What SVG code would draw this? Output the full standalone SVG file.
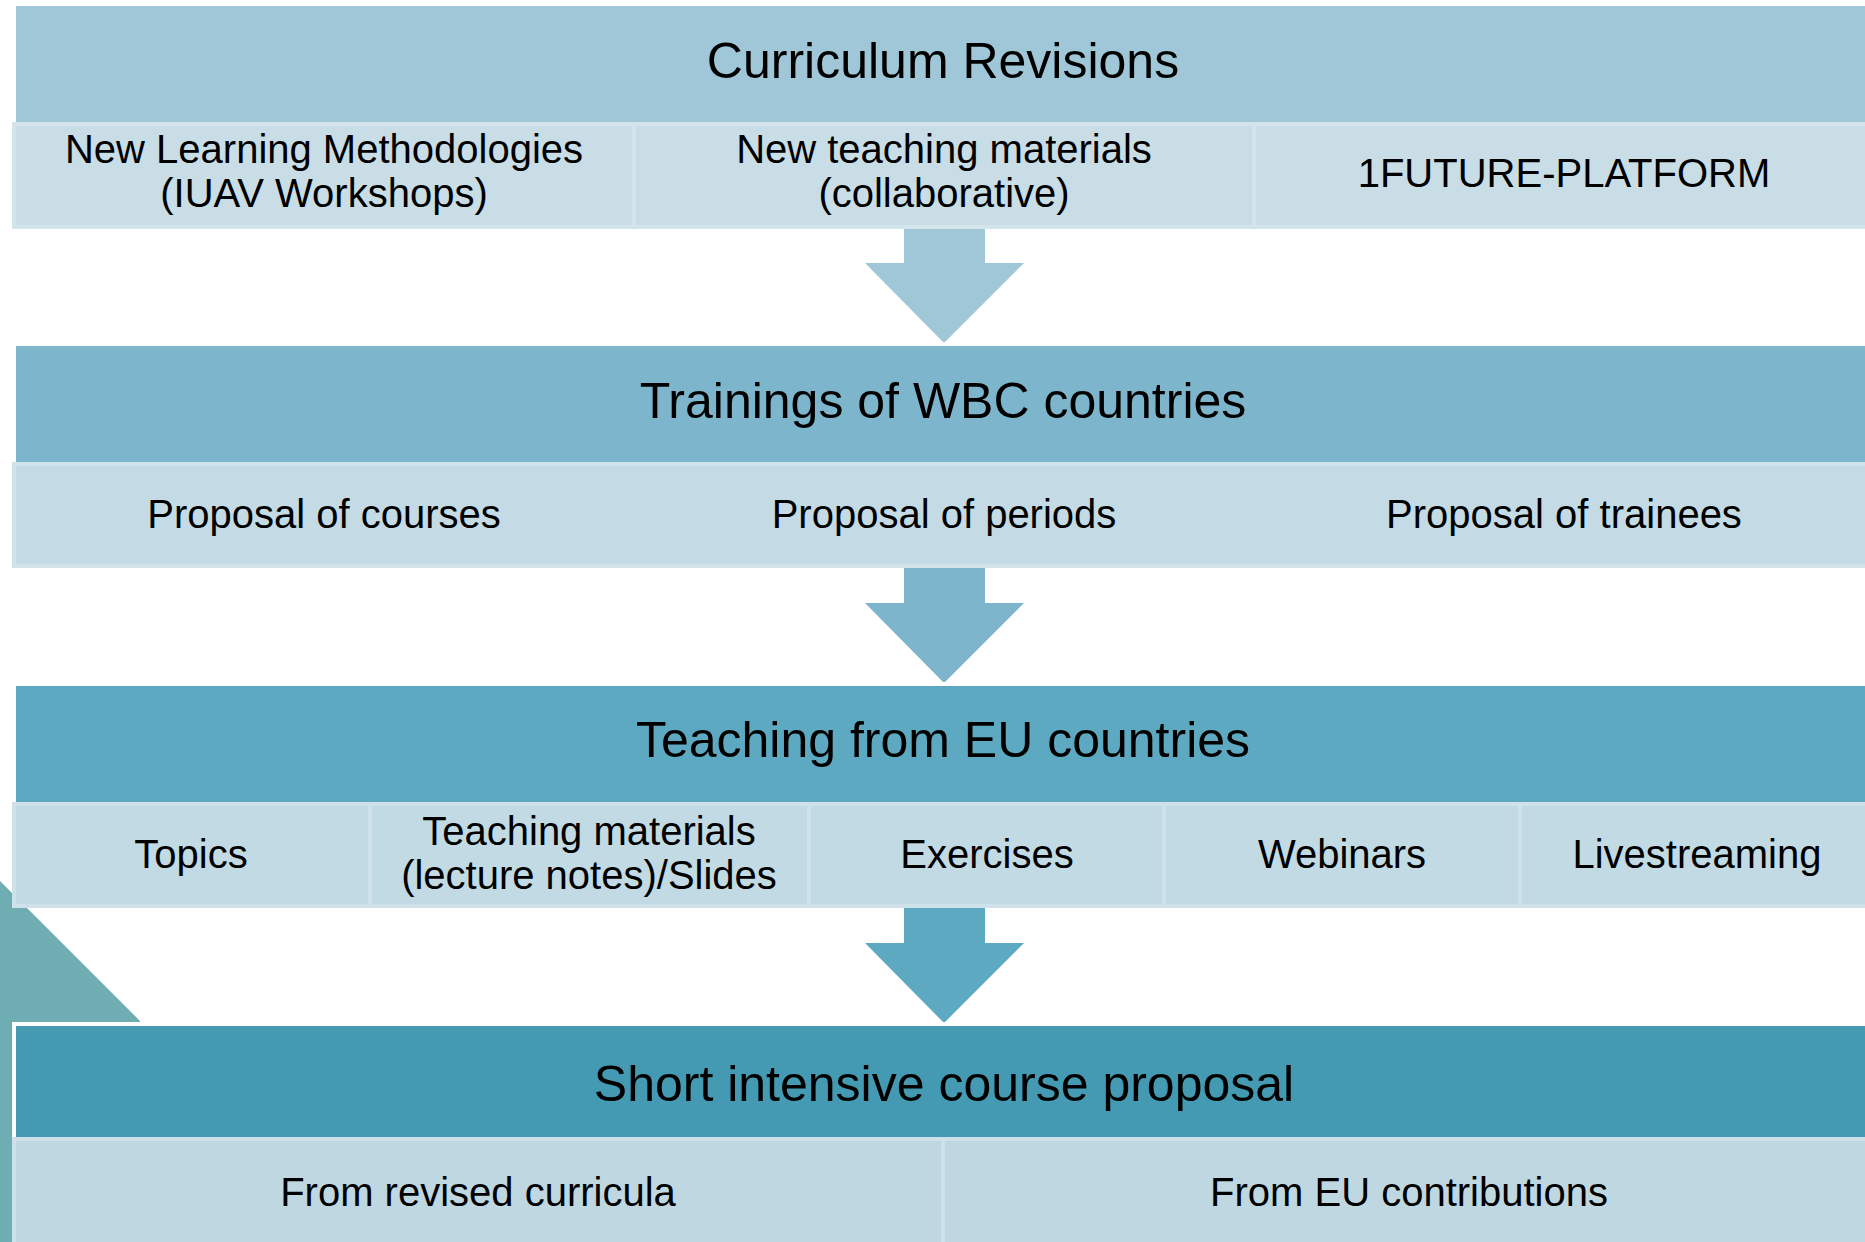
<svg xmlns="http://www.w3.org/2000/svg" width="1865" height="1242" viewBox="0 0 1865 1242">
<defs>
<style>
text{font-family:"Liberation Sans",Arial,sans-serif;fill:#000;text-anchor:middle}
.h{font-size:50px}
.s{font-size:40px}
.hd{stroke:#fff;stroke-width:4}
.c1{fill:#c9dde6;stroke:#d3e4eb;stroke-width:4}
.c2{fill:#c4dbe5;stroke:#d0e2ea;stroke-width:4}
.c3{fill:#c2dae3;stroke:#d0e2e9;stroke-width:4}
.c4{fill:#bfd7e0;stroke:#cee0e8;stroke-width:4}
</style>
</defs>
<rect width="1865" height="1242" fill="#fff"/>
<polygon id="bg-triangle" points="0,881 140,1021 140,1242 0,1242" fill="#6eaeb3"/>
<g id="connectors">
<polygon points="904,220 985,220 985,263 1024,263 944,343 865,263 904,263" fill="#9fc7d7"/>
<polygon points="904,560 985,560 985,603 1024,603 944,683 865,603 904,603" fill="#7db6cc"/>
<polygon points="904,900 985,900 985,943 1024,943 944,1023 865,943 904,943" fill="#5ea9c2"/>
</g>
<g id="curriculum-revisions">
<rect class="hd" x="14" y="4" width="1870" height="120" fill="#9fc7d7"/>
<text class="h" x="943" y="78">Curriculum Revisions</text>
<g id="new-learning-methodologies"><rect class="c1" x="14" y="124" width="620" height="103"/><text class="s" x="324" y="163">New Learning Methodologies</text><text class="s" x="324" y="207">(IUAV Workshops)</text></g>
<g id="new-teaching-materials"><rect class="c1" x="634" y="124" width="620" height="103"/><text class="s" x="944" y="163">New teaching materials</text><text class="s" x="944" y="207">(collaborative)</text></g>
<g id="future-platform"><rect class="c1" x="1254" y="124" width="630" height="103"/><text class="s" x="1564" y="187">1FUTURE-PLATFORM</text></g>
</g>
<g id="trainings-wbc">
<rect class="hd" x="14" y="344" width="1870" height="120" fill="#7db6cc"/>
<text class="h" x="943" y="418">Trainings of WBC countries</text>
<rect class="c2" x="14" y="464" width="1870" height="102"/>
<g id="proposal-courses"><text class="s" x="324" y="528">Proposal of courses</text></g>
<g id="proposal-periods"><text class="s" x="944" y="528">Proposal of periods</text></g>
<g id="proposal-trainees"><text class="s" x="1564" y="528">Proposal of trainees</text></g>
</g>
<g id="teaching-eu">
<rect class="hd" x="14" y="684" width="1870" height="120" fill="#5ea9c2"/>
<text class="h" x="943" y="757">Teaching from EU countries</text>
<g id="topics"><rect class="c3" x="14" y="804" width="356" height="102"/><text class="s" x="191" y="868">Topics</text></g>
<g id="teaching-materials"><rect class="c3" x="370" y="804" width="439" height="102"/><text class="s" x="589" y="845">Teaching materials</text><text class="s" x="589" y="889">(lecture notes)/Slides</text></g>
<g id="exercises"><rect class="c3" x="809" y="804" width="355" height="102"/><text class="s" x="987" y="868">Exercises</text></g>
<g id="webinars"><rect class="c3" x="1164" y="804" width="356" height="102"/><text class="s" x="1342" y="868">Webinars</text></g>
<g id="livestreaming"><rect class="c3" x="1520" y="804" width="364" height="102"/><text class="s" x="1697" y="868">Livestreaming</text></g>
</g>
<g id="short-intensive-course">
<rect class="hd" x="14" y="1024" width="1870" height="115" fill="#449ab2"/>
<text class="h" x="944" y="1101">Short intensive course proposal</text>
<g id="from-revised-curricula"><rect class="c4" x="14" y="1139" width="929" height="110"/><text class="s" x="478" y="1206">From revised curricula</text></g>
<g id="from-eu-contributions"><rect class="c4" x="943" y="1139" width="941" height="110"/><text class="s" x="1409" y="1206">From EU contributions</text></g>
</g>
</svg>
